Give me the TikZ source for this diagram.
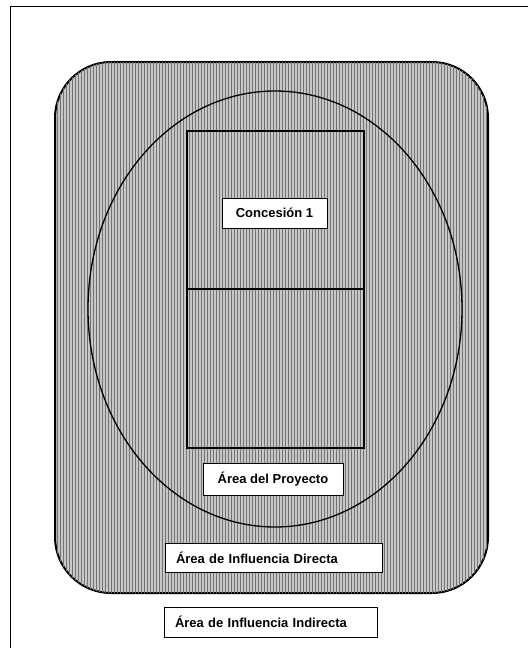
\documentclass[tikz,border=0pt]{standalone}
\usepackage{fontspec}
\setmainfont{Liberation Sans}
\usetikzlibrary{patterns}

\tikzset{
    etiqueta/.style={draw=black, fill=white, thick, inner sep=0pt, font=\bfseries\fontsize{13}{15}\selectfont},
    trama/.style={fill=black!22, postaction={pattern=vertical lines, pattern color=black!55}}
}

\begin{document}
\begin{tikzpicture}[x=1pt,y=-1pt]
    \useasboundingbox (0,0) rectangle (528,648);

        % marco
        \draw[black,thick] (10,6) -- (528,6);
        \draw[black,thick] (10,6) -- (10,648);

        % area de influencia indirecta / directa
        \draw[black,line width=2pt,trama,rounded corners=56pt] (55,62) rectangle (488,593);

        % area del proyecto
        \draw[black,line width=1.3pt] (275,309) ellipse (187 and 218);

        % concesion
        \draw[black,line width=1.5pt] (187,131) rectangle (364,448);
        \draw[black,line width=1.5pt] (187,289) -- (364,289);

        \node[etiqueta,minimum width=105pt,minimum height=30pt] (conc) at (274.5,213) {Concesión 1};
        \node[etiqueta,minimum width=140pt,minimum height=32pt] (proy) at (273,479) {Área del Proyecto};
        \node[etiqueta,minimum width=217pt,minimum height=29pt,text width=195pt,align=left] (dir) at (273.5,557.5) {Área de Influencia Directa};
        \node[etiqueta,minimum width=213pt,minimum height=30pt,text width=191pt,align=left] (ind) at (270.5,622) {Área de Influencia Indirecta};

\end{tikzpicture}
\end{document}
